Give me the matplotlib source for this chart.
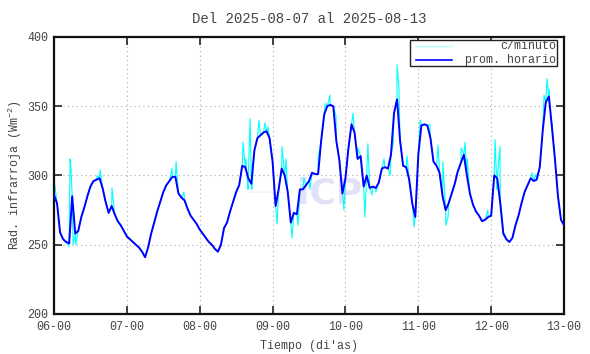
import numpy as np
import matplotlib
matplotlib.use('Agg')
import matplotlib.pyplot as plt
from matplotlib.patches import Circle, Rectangle

plt.rcParams['font.family'] = ['Liberation Mono', 'DejaVu Sans Mono']
plt.rcParams['font.size'] = 8.4
plt.rcParams['mathtext.default'] = 'regular'

# hourly means, hour 0 = 2025-08-06 00:00
hourly = [286, 280, 259, 254, 252, 251, 285, 258, 260, 270, 277, 285,
          292, 296, 297, 298, 291, 281, 273, 278, 272, 267, 264, 260,
          256, 254, 252, 250, 248, 245, 241, 248, 258, 266, 274, 281,
          288, 293, 296, 299, 299, 287, 284, 282, 276, 271, 268, 265,
          261, 258, 255, 252, 250, 247, 245, 250, 262, 266, 274, 281,
          288, 293, 307, 306, 298, 294, 318, 327, 329, 331, 332, 327,
          310, 278, 290, 305, 300, 288, 266, 273, 272, 290, 290, 293,
          296, 302, 301, 301, 325, 344, 350, 351, 350, 325, 311, 287,
          298, 320, 337, 331, 312, 314, 292, 300, 291, 292, 291, 295,
          305, 306, 305, 315, 345, 355, 325, 307, 306, 297, 280, 270,
          315, 336, 337, 336, 327, 310, 307, 302, 285, 275, 280, 287,
          294, 303, 309, 315, 300, 287, 279, 274, 271, 267, 268, 270,
          271, 300, 298, 280, 258, 254, 252, 255, 264, 271, 280, 288,
          293, 298, 296, 297, 306, 333, 353, 357, 335, 312, 285, 268,
          264]

# per-minute excursions (hour, value)
spike_h = [0.3, 4.9, 5.3, 5.6, 6.3, 7.2, 14.2, 15.2, 19.1, 38.9, 40.2, 42.8,
           62.3, 63.2, 63.9, 64.6, 65.2, 67.5, 69.5, 70.5, 73.5, 75.1, 76.4,
           78.4, 80.4, 82.3, 84.3, 87.0, 89.3, 90.9, 92.9, 95.5, 98.5, 100.1,
           102.4, 103.4, 104.7, 106.0, 108.7, 110.7, 111.7, 113.0, 113.6,
           116.3, 118.6, 120.6, 123.8, 126.5, 128.1, 129.1, 129.8, 134.1,
           135.4, 136.1, 142.9, 145.3, 145.9, 146.9, 147.6, 148.5, 157.4,
           158.8, 161.4, 162.4, 163.0, 164.0]
spike_v = [293, 249, 312, 305, 250, 250, 300, 304, 291, 305, 310, 288,
           324, 312, 290, 341, 290, 340, 338, 335, 265, 321, 312,
           255, 264, 298, 290, 313, 352, 358, 343, 275, 345, 320,
           270, 323, 286, 288, 312, 300, 322, 380, 365,
           314, 263, 340, 337, 322, 310, 264, 270, 320,
           324, 312, 275, 326, 290, 321, 270, 258, 302,
           301, 358, 370, 362, 338]

day_ticks = [6, 7, 8, 9, 10, 11, 12, 13]
day_labels = ['%02d-00' % d for d in day_ticks]

h = np.arange(len(hourly))
t_hour = 6 + h / 24.0
mt = np.concatenate([h, spike_h])
mv = np.concatenate([hourly, spike_v])
order = np.argsort(mt, kind='stable')
t_min = 6 + mt[order] / 24.0
v_min = mv[order]

fig = plt.figure(figsize=(5.9, 3.54), dpi=100)
ax = fig.add_axes([0.0915, 0.113, 0.8645, 0.7825])

# faint logo watermark
ax.add_patch(Circle((8.92, 288), 0.27, transform=ax.transData,
                    facecolor='#e0e5f9', edgecolor='none', zorder=0))
ax.text(9.78, 287, 'iCP', fontsize=26, fontweight='bold', color='#e2e2f6',
        family='DejaVu Sans', ha='center', va='center', zorder=0)

ax.plot(t_min, v_min, color='#00ffff', lw=0.8, zorder=2)
ax.plot(t_hour, hourly, color='#0000ff', lw=1.4, zorder=3)

ax.set_xlim(6, 13)
ax.set_ylim(200, 400)
ax.set_xticks(day_ticks)
ax.set_xticklabels(day_labels)
ax.set_yticks([200, 250, 300, 350, 400])
ax.tick_params(direction='in', length=6, width=1.2, top=True, right=True,
               colors='#222222', labelcolor='#444444', pad=5)
ax.tick_params(axis='y', pad=4)
ax.grid(True, linestyle=(0, (1, 3)), color='#aaaaaa', lw=0.8)
for s in ax.spines.values():
    s.set_linewidth(1.6)
    s.set_color('#111111')

ax.set_title('Del 2025-08-07 al 2025-08-13', color='#444444', pad=10)
ax.set_xlabel("Tiempo (di'as)", color='#444444')
ax.xaxis.set_label_coords(0.5, -0.095)
ax.set_ylabel('Rad. infrarroja (Wm$^{-2}$)', color='#444444', labelpad=2.4)

# gnuplot-style key, text right aligned
ax.add_patch(Rectangle((0.698, 0.895), 0.288, 0.094, transform=ax.transAxes,
                       facecolor='white', edgecolor='#222222', lw=1, zorder=5))
ax.plot([0.710, 0.780], [0.967, 0.967], transform=ax.transAxes,
        color='#b0ffff', lw=1, zorder=6)
ax.plot([0.710, 0.780], [0.917, 0.917], transform=ax.transAxes,
        color='#0000ff', lw=1.2, zorder=6)
ax.text(0.984, 0.967, 'c/minuto', transform=ax.transAxes, ha='right',
        va='center', color='#444444', zorder=6)
ax.text(0.984, 0.917, 'prom. horario', transform=ax.transAxes, ha='right',
        va='center', color='#444444', zorder=6)

fig.savefig('out.png', dpi=100)
